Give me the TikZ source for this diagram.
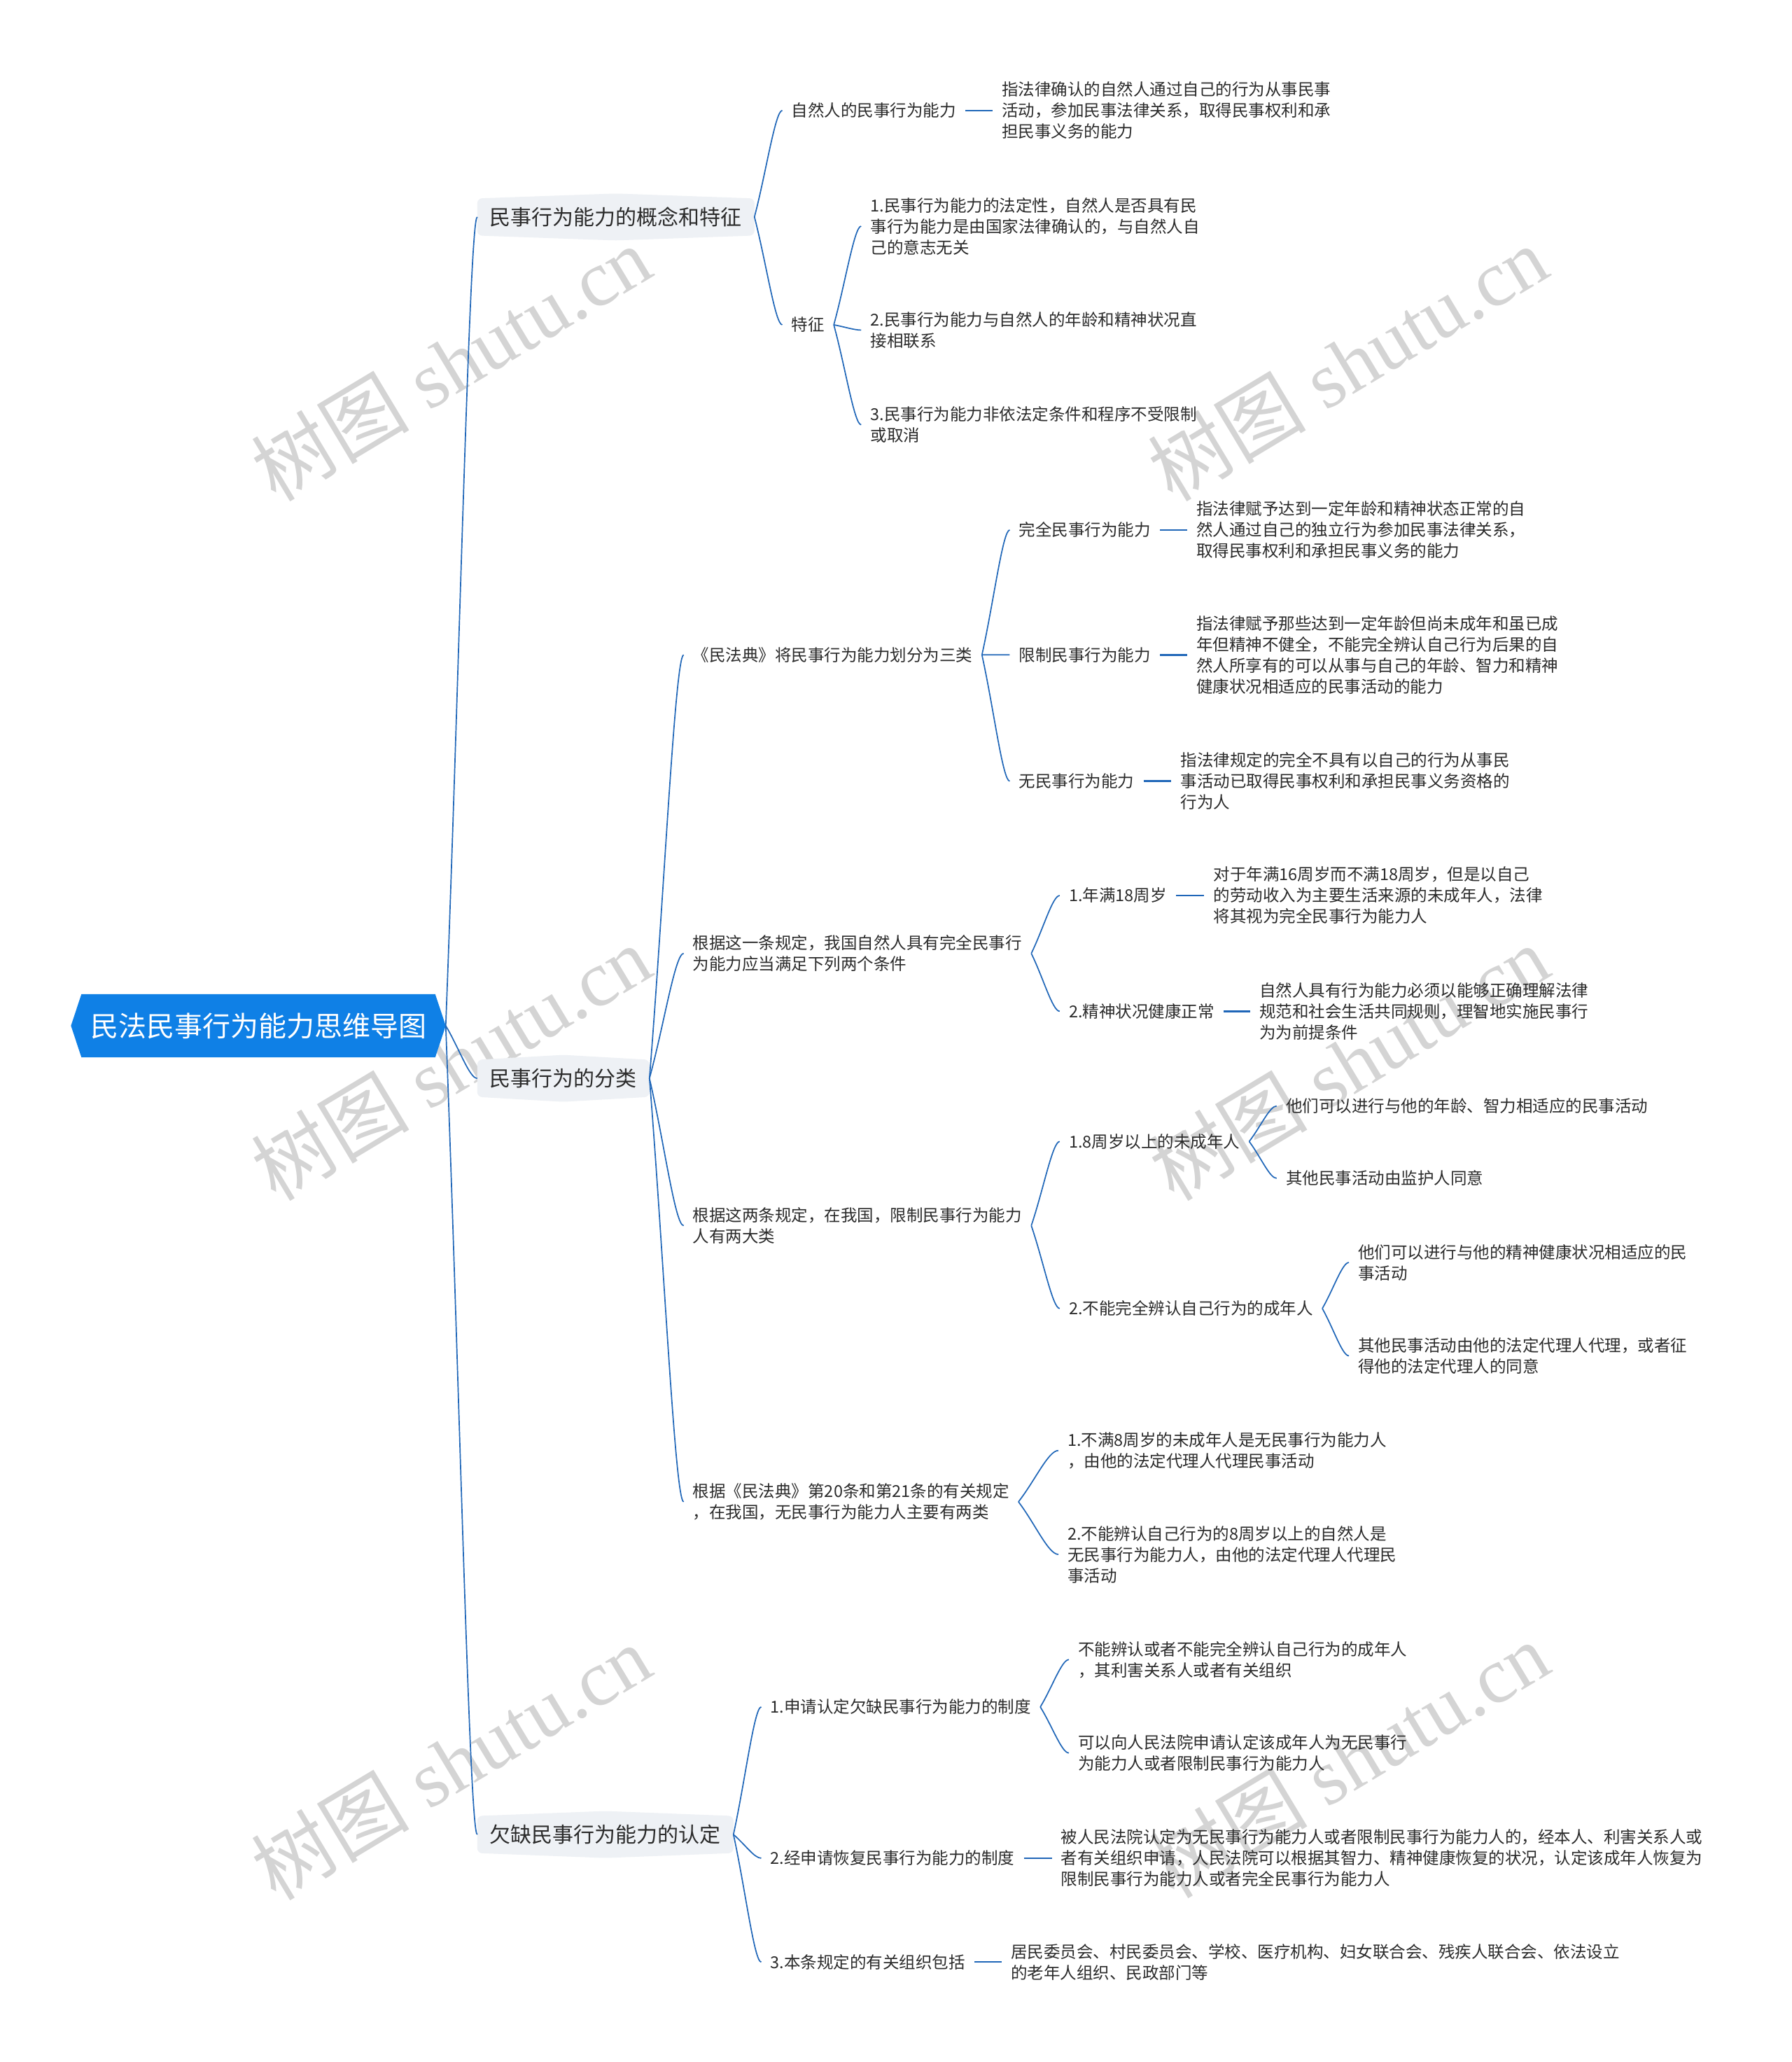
\documentclass[tikz,border=0pt]{standalone}
\usepackage{fontspec}
\setmainfont{Noto Sans CJK SC}
\newfontfamily\wmlat{Liberation Serif}
\usetikzlibrary{calc,backgrounds}
\definecolor{linkblue}{HTML}{1F66B8}
\definecolor{rootblue}{HTML}{0F80E6}
\definecolor{boxgrey}{HTML}{EEF1F5}
\definecolor{textc}{HTML}{2B2B2B}
\definecolor{wmgrey}{HTML}{D4D4D4}
\newcommand\mmlink[2]{\draw[linkc] (#1) .. controls ($(#1)!0.42!(#2)$) and ($(#2)!0.25!(#1|-#2)$) .. (#2);}
\tikzset{
  leaf/.style={anchor=west, inner xsep=13.1pt, inner ysep=0pt, align=left, text=textc, font=\fontsize{23.5pt}{30pt}\selectfont},
  lvone/.style={anchor=west, inner xsep=17.8pt, inner ysep=0pt, minimum height=52.6pt, text=textc, font=\fontsize{30pt}{36pt}\selectfont},
  rootnode/.style={inner sep=0pt, minimum width=505pt, minimum height=90pt, text=white, font=\fontsize{40pt}{48pt}\selectfont},
  linkc/.style={draw=linkblue, line width=1.7pt},
  dashc/.style={draw=linkblue, line width=2.4pt},
  wm/.style={text=wmgrey, font=\fontsize{113pt}{113pt}\selectfont, inner sep=0pt, rotate=31},
}
\begin{document}
\begin{tikzpicture}[x=1.8782pt,y=-1.8782pt]
\useasboundingbox (0,0) rectangle (1363,1568);

% root and level one
\node[rootnode] (root) at (196.5,780) {民法民事行为能力思维导图};
\coordinate (rootR) at ([xshift=15pt]root.east);
\node[lvone] (a1) at (363,165) {民事行为能力的概念和特征};
\node[lvone] (a2) at (363,820) {民事行为的分类};
\node[lvone] (a3) at (363,1395) {欠缺民事行为能力的认定};

% branch 1
\node[leaf] (b1) at (595,84) {自然人的民事行为能力};
\node[leaf] (c1) at (755,84) {指法律确认的自然人通过自己的行为从事民事\\活动，参加民事法律关系，取得民事权利和承\\担民事义务的能力};
\node[leaf] (b2) at (595,247) {特征};
\node[leaf] (c2) at (655,172) {1.民事行为能力的法定性，自然人是否具有民\\事行为能力是由国家法律确认的，与自然人自\\己的意志无关};
\node[leaf] (c3) at (655,251) {2.民事行为能力与自然人的年龄和精神状况直\\接相联系};
\node[leaf] (c4) at (655,323) {3.民事行为能力非依法定条件和程序不受限制\\或取消};

% branch 2
\node[leaf] (b3) at (520,498) {《民法典》将民事行为能力划分为三类};
\node[leaf] (d1) at (768,403) {完全民事行为能力};
\node[leaf] (e1) at (903,403) {指法律赋予达到一定年龄和精神状态正常的自\\然人通过自己的独立行为参加民事法律关系，\\取得民事权利和承担民事义务的能力};
\node[leaf] (d2) at (768,498) {限制民事行为能力};
\node[leaf] (e2) at (903,498) {指法律赋予那些达到一定年龄但尚未成年和虽已成\\年但精神不健全，不能完全辨认自己行为后果的自\\然人所享有的可以从事与自己的年龄、智力和精神\\健康状况相适应的民事活动的能力};
\node[leaf] (d3) at (768,594) {无民事行为能力};
\node[leaf] (e3) at (891,594) {指法律规定的完全不具有以自己的行为从事民\\事活动已取得民事权利和承担民事义务资格的\\行为人};

\node[leaf] (b4) at (520,725) {根据这一条规定，我国自然人具有完全民事行\\为能力应当满足下列两个条件};
\node[leaf] (d4) at (806,681) {1.年满18周岁};
\node[leaf] (e4) at (916,681) {对于年满16周岁而不满18周岁，但是以自己\\的劳动收入为主要生活来源的未成年人，法律\\将其视为完全民事行为能力人};
\node[leaf] (d5) at (806,769) {2.精神状况健康正常};
\node[leaf] (e5) at (951,769) {自然人具有行为能力必须以能够正确理解法律\\规范和社会生活共同规则，理智地实施民事行\\为为前提条件};

\node[leaf] (b5) at (520,932) {根据这两条规定，在我国，限制民事行为能力\\人有两大类};
\node[leaf] (d6) at (806,868) {1.8周岁以上的未成年人};
\node[leaf] (e6) at (971,841) {他们可以进行与他的年龄、智力相适应的民事活动};
\node[leaf] (e7) at (971,896) {其他民事活动由监护人同意};
\node[leaf] (d7) at (806,995) {2.不能完全辨认自己行为的成年人};
\node[leaf] (e8) at (1026,960) {他们可以进行与他的精神健康状况相适应的民\\事活动};
\node[leaf] (e9) at (1026,1031) {其他民事活动由他的法定代理人代理，或者征\\得他的法定代理人的同意};

\node[leaf] (b6) at (520,1142) {根据《民法典》第20条和第21条的有关规定\\，在我国，无民事行为能力人主要有两类};
\node[leaf] (d8) at (805,1103) {1.不满8周岁的未成年人是无民事行为能力人\\，由他的法定代理人代理民事活动};
\node[leaf] (d9) at (805,1182) {2.不能辨认自己行为的8周岁以上的自然人是\\无民事行为能力人，由他的法定代理人代理民\\事活动};

% branch 3
\node[leaf] (b7) at (579,1298) {1.申请认定欠缺民事行为能力的制度};
\node[leaf] (d10) at (813,1262) {不能辨认或者不能完全辨认自己行为的成年人\\，其利害关系人或者有关组织};
\node[leaf] (d11) at (813,1333) {可以向人民法院申请认定该成年人为无民事行\\为能力人或者限制民事行为能力人};
\node[leaf] (b8) at (579,1413) {2.经申请恢复民事行为能力的制度};
\node[leaf] (d12) at (800,1413) {被人民法院认定为无民事行为能力人或者限制民事行为能力人的，经本人、利害关系人或\\者有关组织申请，人民法院可以根据其智力、精神健康恢复的状况，认定该成年人恢复为\\限制民事行为能力人或者完全民事行为能力人};
\node[leaf] (b9) at (579,1492) {3.本条规定的有关组织包括};
\node[leaf] (d13) at (762,1492) {居民委员会、村民委员会、学校、医疗机构、妇女联合会、残疾人联合会、依法设立\\的老年人组织、民政部门等};

% background: page, watermarks, boxes
\begin{scope}[on background layer]
  \fill[white] (0,0) rectangle (1363,1568);
  \node[wm] (wm1) at (343,276) {树图\hspace{0.25em}{\wmlat shutu.cn}};
  \node[wm] (wm2) at (1025,276) {树图\hspace{0.25em}{\wmlat shutu.cn}};
  \node[wm] (wm3) at (343,808) {树图\hspace{0.25em}{\wmlat shutu.cn}};
  \node[wm] (wm4) at (1026,808) {树图\hspace{0.25em}{\wmlat shutu.cn}};
  \node[wm] (wm5) at (343,1340) {树图\hspace{0.25em}{\wmlat shutu.cn}};
  \node[wm] (wm6) at (1026,1338) {树图\hspace{0.25em}{\wmlat shutu.cn}};
  \foreach \n in {a1,a2,a3}
    \fill[boxgrey, rounded corners=7pt] (\n.north west) -- ([yshift=7pt]\n.north) -- (\n.north east) -- (\n.south east) -- ([yshift=-7pt]\n.south) -- (\n.south west) -- cycle;
  \fill[rootblue] (root.north west) -- (root.north east) -- (rootR) -- (root.south east) -- (root.south west) -- ([xshift=-15pt]root.west) -- cycle;
\end{scope}

% connectors
\mmlink{rootR}{a1.west}
\mmlink{rootR}{a2.west}
\mmlink{rootR}{a3.west}

\mmlink{a1.east}{b1.west}
\mmlink{a1.east}{b2.west}
\draw[dashc] (b1.east) -- (c1.west);
\mmlink{b2.east}{c2.west}
\mmlink{b2.east}{c3.west}
\mmlink{b2.east}{c4.west}

\mmlink{a2.east}{b3.west}
\mmlink{a2.east}{b4.west}
\mmlink{a2.east}{b5.west}
\mmlink{a2.east}{b6.west}
\mmlink{b3.east}{d1.west}
\mmlink{b3.east}{d2.west}
\mmlink{b3.east}{d3.west}
\draw[dashc] (d1.east) -- (e1.west);
\draw[dashc] (d2.east) -- (e2.west);
\draw[dashc] (d3.east) -- (e3.west);
\mmlink{b4.east}{d4.west}
\mmlink{b4.east}{d5.west}
\draw[dashc] (d4.east) -- (e4.west);
\draw[dashc] (d5.east) -- (e5.west);
\mmlink{b5.east}{d6.west}
\mmlink{b5.east}{d7.west}
\mmlink{d6.east}{e6.west}
\mmlink{d6.east}{e7.west}
\mmlink{d7.east}{e8.west}
\mmlink{d7.east}{e9.west}
\mmlink{b6.east}{d8.west}
\mmlink{b6.east}{d9.west}

\mmlink{a3.east}{b7.west}
\mmlink{a3.east}{b8.west}
\mmlink{a3.east}{b9.west}
\mmlink{b7.east}{d10.west}
\mmlink{b7.east}{d11.west}
\draw[dashc] (b8.east) -- (d12.west);
\draw[dashc] (b9.east) -- (d13.west);
\end{tikzpicture}
\end{document}
